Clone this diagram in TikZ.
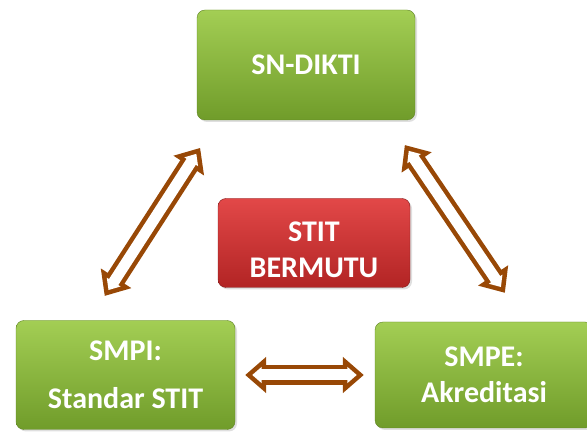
\documentclass[tikz,border=0pt]{standalone}
\usepackage{fontspec}
\setmainfont{Carlito}
\usetikzlibrary{arrows.meta,shadows}

\definecolor{arrowbrown}{RGB}{152,72,6}
\definecolor{greentop}{RGB}{163,206,84}
\definecolor{greenbot}{RGB}{112,156,42}
\definecolor{greenline}{RGB}{96,132,38}
\definecolor{redtop}{RGB}{226,72,72}
\definecolor{redbot}{RGB}{178,36,36}
\definecolor{redline}{RGB}{128,28,28}

\begin{document}
\begin{tikzpicture}[x=1pt,y=-1pt,
    box/.style={rounded corners=8pt,align=center,text=white,inner sep=0pt,
      font=\bfseries\fontsize{30}{36}\selectfont,
      drop shadow={opacity=0.25,shadow xshift=2pt,shadow yshift=-2pt}},
    greenbox/.style={box,draw=greenline,top color=greentop,bottom color=greenbot},
    redbox/.style={box,draw=redline,top color=redtop,bottom color=redbot},
    dblout/.style={draw=arrowbrown,line width=20pt,
      {Triangle[length=21pt,width=35pt]}-{Triangle[length=21pt,width=35pt]}},
    dblin/.style={draw=white,line width=11pt,
      {Triangle[length=9.5pt,width=15.8pt]}-{Triangle[length=9.5pt,width=15.8pt]}}]
    \useasboundingbox (0,0) rectangle (587,435);
    \node[greenbox,minimum width=218pt,minimum height=110pt] (sndikti) at (306,65) {SN-DIKTI};
     \node[redbox,minimum width=192pt,minimum height=89pt] (stit) at (314,243) {\rule{0pt}{33pt}STIT\\BERMUTU};
      \node[greenbox,minimum width=219pt,minimum height=109pt] (smpi) at (125.5,375) {SMPI:\\[12pt]Standar STIT};
       \node[greenbox,minimum width=218pt,minimum height=106pt] (smpe) at (484,375) {SMPE:\\Akreditasi};
    \draw [dblout,shorten <=29pt,shorten >=33pt] ([xshift=-36.5pt]smpi.north) -- ([xshift=-88pt]sndikti.south);
    \draw [dblin,shorten <=36pt,shorten >=40pt] ([xshift=-36.5pt]smpi.north) -- ([xshift=-88pt]sndikti.south);
    \draw [dblout,shorten <=30pt,shorten >=35pt] ([xshift=82pt]sndikti.south) -- ([xshift=40.5pt]smpe.north);
    \draw [dblin,shorten <=37pt,shorten >=42pt] ([xshift=82pt]sndikti.south) -- ([xshift=40.5pt]smpe.north);
    \draw [dblout,shorten <=10pt,shorten >=11pt] (smpi.east) -- (smpe.west);
    \draw [dblin,shorten <=17pt,shorten >=18pt] (smpi.east) -- (smpe.west);
\end{tikzpicture}
\end{document}
